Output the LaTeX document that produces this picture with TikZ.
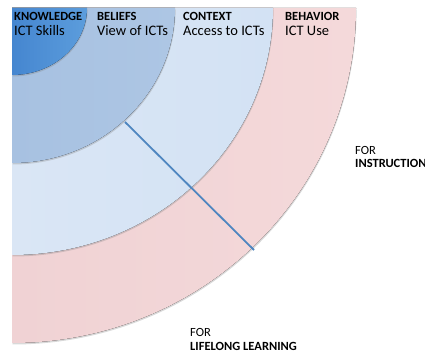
\documentclass[tikz,border=0pt]{standalone}
\usepackage{fontspec}
\setmainfont{Carlito}
\usetikzlibrary{shadows}
\definecolor{knowDark}{HTML}{4586D0}
\definecolor{knowLight}{HTML}{5C9DDC}
\definecolor{beliefBlue}{HTML}{A7C1E1}
\definecolor{beliefLight}{HTML}{ADC6E4}
\definecolor{contextBlue}{HTML}{D3E2F4}
\definecolor{contextLight}{HTML}{DAE6F5}
\definecolor{behavPink}{HTML}{F0D2D4}
\definecolor{behavLight}{HTML}{F4D9DA}
\definecolor{lineBlue}{HTML}{4F86C0}
\tikzset{
	ring/.style={drop shadow={shadow xshift=0.6pt, shadow yshift=-1.5pt, opacity=0.3}},
	title/.style={font=\bfseries\fontsize{12.5}{14}\selectfont},
	sub/.style={font=\fontsize{14.5}{15}\selectfont}
}

\begin{document}
\begin{tikzpicture}[x=1pt,y=1pt]
	\useasboundingbox (0,0) rectangle (425,353);
	\coordinate (O) at (12,345);

	% quarter rings, outside in
	\fill[ring, left color=behavPink, right color=behavLight] (O) -- ++(344,0)
		arc[start angle=0, end angle=-90, x radius=344, y radius=335] -- cycle;
	\fill[ring, left color=contextLight, right color=contextBlue] (O) -- ++(261,0)
		arc[start angle=0, end angle=-90, x radius=261, y radius=247] -- cycle;
	\fill[ring, left color=beliefBlue, right color=beliefLight] (O) -- ++(163,0)
		arc[start angle=0, end angle=-90, x radius=163, y radius=155] -- cycle;
	\fill[ring, left color=knowDark, right color=knowLight] (O) -- ++(75,0)
		arc[start angle=0, end angle=-90, x radius=75, y radius=67] -- cycle;

	\coordinate (lineA) at (125,231);
	\coordinate (lineB) at (254,103);
	\draw[line width=1.8pt, draw=lineBlue] (lineA) -- (lineB);

	\begin{scope}[every node/.style={anchor=base west, inner sep=0pt}]
		\node[title] (know) at (14,332) {KNOWLEDGE};
		\node[sub] (knowSub) at (14,317) {ICT Skills};
		\node[title] (belief) at (97,332) {BELIEFS};
		\node[sub] (beliefSub) at (97,317) {View of ICTs};
		\node[title] (context) at (183,332) {CONTEXT};
		\node[sub] (contextSub) at (183,317) {Access to ICTs};
		\node[title] (behav) at (285,332) {BEHAVIOR};
		\node[sub] (behavSub) at (285,317) {ICT Use};
		\node[sub, font=\fontsize{12.5}{14}\selectfont] (forA) at (355,198) {FOR};
		\node[title] (instr) at (355,185) {INSTRUCTION};
		\node[sub, font=\fontsize{12.5}{14}\selectfont] (forB) at (190,17) {FOR};
		\node[title] (lifelong) at (190,3) {LIFELONG LEARNING};
	\end{scope}
\end{tikzpicture}
\end{document}
